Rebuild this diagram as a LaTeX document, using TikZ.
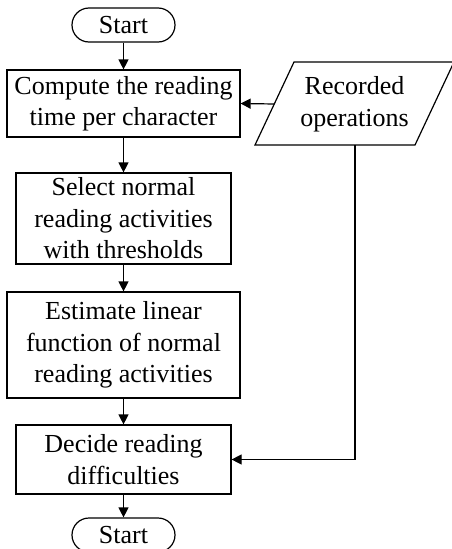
\documentclass[tikz,border=0pt]{standalone}
\usepackage{fontspec}
\setmainfont{Liberation Serif}
\usetikzlibrary{arrows.meta}
\begin{document}
\begin{tikzpicture}[x=1pt,y=-1pt,
  line width=1.2pt,
  txt/.style={font=\fontsize{26}{31.5}\selectfont, align=center, inner sep=0pt},
  procbox/.style={txt, draw, rectangle, minimum height=#1},
  term/.style={txt, draw, rectangle, rounded corners=17pt, minimum width=103pt, minimum height=34pt},
  arr/.style={-{Triangle[length=10pt,width=10pt]}}]
\useasboundingbox (0,0) rectangle (451,549);

% terminals and process boxes
\node[term] (start) at (123.5,25) {Start};
\node[procbox=67pt, minimum width=233pt] (b1) at (123.5,103.5) {Compute the reading\\time per character};
\node[procbox=91pt, minimum width=215pt] (b2) at (123.5,218.5) {Select normal\\reading activities\\with thresholds};
\node[procbox=106pt, minimum width=233pt] (b3) at (123.5,345) {Estimate linear\\function of normal\\reading activities};
\node[procbox=69pt, minimum width=215pt] (b4) at (123.5,459.5) {Decide reading\\difficulties};
\node[term] (stop) at (123.5,535) {Start};

% input/output parallelogram
\draw (255,145) -- (294,62) -- (454,62) -- (415,145) -- cycle;
\node[txt] (rec) at (354.5,104) {Recorded\\operations};
\coordinate (recW) at (274.5,104);
\coordinate (recS) at (355,145);

% connectors
\draw[arr] (start) -- (b1);
\draw[arr] (b1) -- (b2);
\draw[arr] (b2) -- (b3);
\draw[arr] (b3) -- (b4);
\draw[arr] (b4) -- (stop);
\draw[arr] (recW) -- (b1.east);
\draw[arr] (recS) |- (b4.east);
\end{tikzpicture}
\end{document}
